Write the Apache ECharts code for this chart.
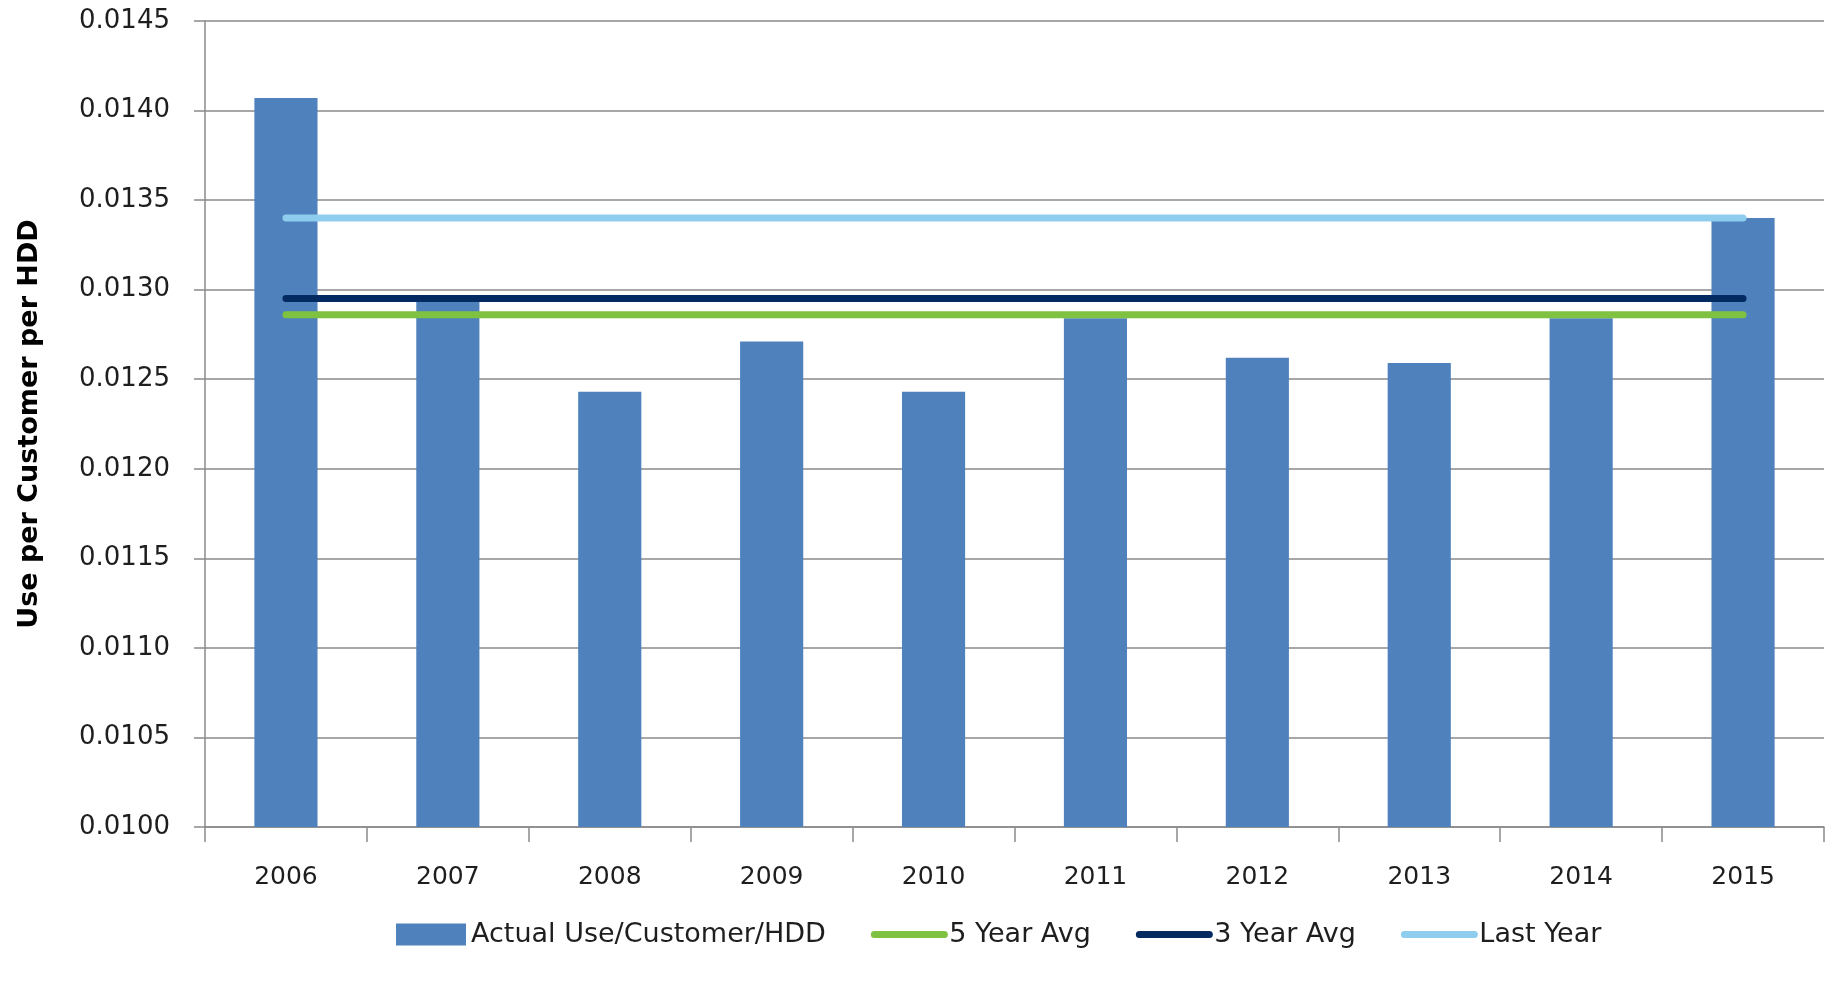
<!DOCTYPE html>
<html>
<head>
<meta charset="utf-8">
<script src="https://cdn.jsdelivr.net/npm/echarts@6/dist/echarts.min.js"></script>
<style>
  html, body { margin: 0; padding: 0; background: #ffffff; }
  #chart { width: 1837px; height: 983px; }
</style>
</head>
<body>
<div id="chart"></div>
<script>
// Yearly gas use per customer per heating degree day
const years = ['2006', '2007', '2008', '2009', '2010', '2011', '2012', '2013', '2014', '2015'];
const actualUse = [0.01407, 0.01294, 0.01243, 0.01271, 0.01243, 0.01284, 0.01262, 0.01259, 0.01284, 0.01340];

// Reference levels drawn as flat lines across every year
const fiveYearAvg = [0.01286, 0.01286, 0.01286, 0.01286, 0.01286, 0.01286, 0.01286, 0.01286, 0.01286, 0.01286];
const threeYearAvg = [0.01295, 0.01295, 0.01295, 0.01295, 0.01295, 0.01295, 0.01295, 0.01295, 0.01295, 0.01295];
const lastYear = [0.01340, 0.01340, 0.01340, 0.01340, 0.01340, 0.01340, 0.01340, 0.01340, 0.01340, 0.01340];

const seriesNames = ['Actual Use/Customer/HDD', '5 Year Avg', '3 Year Avg', 'Last Year'];
const yTitle = 'Use per Customer per HDD';

const FONT = '"DejaVu Sans", Verdana, sans-serif';
const GRID_GRAY = '#8a8a8a';
const TEXT = '#1e1e1e';

const chart = echarts.init(document.getElementById('chart'), null, { renderer: 'canvas' });

function flatLine(name, data, color) {
  return {
    name: name,
    type: 'line',
    data: data,
    symbol: 'none',
    showSymbol: false,
    lineStyle: { color: color, width: 7, cap: 'round' },
    itemStyle: { color: color },
    z: 3,
    silent: true
  };
}

// Legend entry for a flat line: plain thick stroke, no marker dot
function lineLegendItem(name) {
  return {
    name: name,
    lineStyle: { width: 7, cap: 'round' },
    itemStyle: { color: 'rgba(0,0,0,0)', borderWidth: 0, opacity: 0 }
  };
}

chart.setOption({
  animation: false,
  backgroundColor: '#ffffff',
  grid: { left: 205, right: 13, top: 21, bottom: 156, containLabel: false },
  legend: {
    left: 391,
    top: 916,
    itemGap: 45,
    itemWidth: 70,
    itemHeight: 22,
    textStyle: { fontFamily: FONT, fontSize: 27, color: TEXT },
    data: [
      { name: seriesNames[0], icon: 'rect' },
      lineLegendItem(seriesNames[1]),
      lineLegendItem(seriesNames[2]),
      lineLegendItem(seriesNames[3])
    ]
  },
  xAxis: {
    type: 'category',
    data: years,
    boundaryGap: true,
    axisLine: { show: true, lineStyle: { color: GRID_GRAY, width: 1.5 } },
    axisTick: { show: true, inside: false, length: 15, interval: 0, lineStyle: { color: GRID_GRAY, width: 1.5 } },
    axisLabel: { fontFamily: FONT, fontSize: 25, color: TEXT, margin: 38 },
    splitLine: { show: false }
  },
  yAxis: {
    type: 'value',
    min: 0.0100,
    max: 0.0145,
    interval: 0.0005,
    name: yTitle,
    nameLocation: 'middle',
    nameGap: 162,
    nameRotate: 90,
    nameTextStyle: { fontFamily: FONT, fontSize: 27, fontWeight: 'bold', color: '#000000' },
    axisLine: { show: true, lineStyle: { color: GRID_GRAY, width: 1.5 } },
    axisTick: { show: true, inside: false, length: 11, lineStyle: { color: GRID_GRAY, width: 1.5 } },
    axisLabel: {
      fontFamily: FONT, fontSize: 26, color: TEXT, margin: 35,
      formatter: function (v) { return v.toFixed(4); }
    },
    splitLine: { show: true, lineStyle: { color: GRID_GRAY, width: 1.5 } }
  },
  series: [
    {
      name: seriesNames[0],
      type: 'bar',
      data: actualUse,
      barWidth: '39%',
      itemStyle: { color: '#4f81bd' },
      z: 2,
      silent: true
    },
    flatLine(seriesNames[1], fiveYearAvg, '#7fc241'),
    flatLine(seriesNames[2], threeYearAvg, '#032a61'),
    flatLine(seriesNames[3], lastYear, '#8fcdef')
  ]
});
</script>
</body>
</html>
